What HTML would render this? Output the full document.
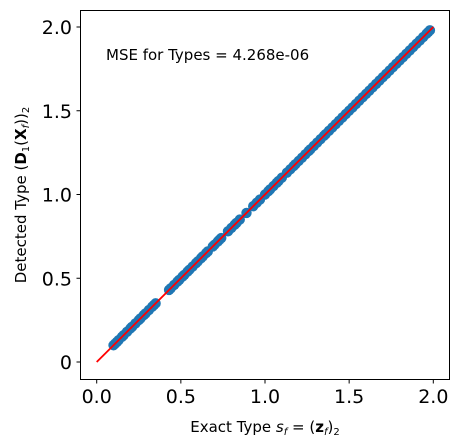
<!DOCTYPE html>
<html><head><meta charset="utf-8"><style>
html,body{margin:0;padding:0;background:#fff;}
svg{display:block;font-family:"DejaVu Sans","Liberation Sans",sans-serif;}
</style></head><body>
<svg id="chart" width="460" height="446" viewBox="0 0 460 446">
<rect x="80.5" y="10.5" width="369" height="369" fill="#fff" stroke="#000" stroke-width="1"/>
<g id="marks"></g>
<g id="axes"></g>
<text x="106" y="60" font-size="15" fill="#000">MSE for Types = 4.268e-06</text>
<text x="265" y="432" font-size="15" text-anchor="middle" fill="#000">Exact Type <tspan font-style="italic">s</tspan><tspan font-size="10" font-style="italic" dy="3">f</tspan><tspan dy="-3"> = (</tspan><tspan font-weight="bold">z</tspan><tspan font-size="10" font-style="italic" dy="3">f</tspan><tspan dy="-3">)</tspan><tspan font-size="10" dy="3">2</tspan></text>
<text transform="translate(26,195) rotate(-90)" font-size="15" text-anchor="middle" fill="#000">Detected Type (<tspan font-weight="bold">D</tspan><tspan font-size="10" dy="3">1</tspan><tspan dy="-3">(</tspan><tspan font-weight="bold">X</tspan><tspan font-size="10" font-style="italic" dy="3">f</tspan><tspan dy="-3">))</tspan><tspan font-size="10" dy="3">2</tspan></text>
</svg>
<script>
const xTicks=[0,0.5,1,1.5,2];
const xTickLabels=["0.0","0.5","1.0","1.5","2.0"];
const yTicks=[0,0.5,1,1.5,2];
const yTickLabels=["0","0.5","1.0","1.5","2.0"];
const exactTypes=[0.10,0.11,0.12,0.13,0.15,0.16,0.18,0.20,0.21,0.23,0.25,0.26,0.28,0.29,0.31,0.33,0.34,0.35,
0.43,0.44,0.46,0.48,0.49,0.51,0.52,0.54,0.55,0.57,0.59,0.60,0.62,0.63,0.65,0.66,0.69,0.70,0.72,0.73,0.74,
0.78,0.80,0.82,0.83,0.85,0.89,0.93,0.95,0.97,1.00,1.02,1.03,1.05,1.07,1.08,1.10,1.13,1.15,1.17,1.18,1.20,
1.22,1.24,1.26,1.27,1.29,1.31,1.33,1.35,1.36,1.38,1.40,1.42,1.44,1.46,1.48,1.50,1.52,1.54,1.56,1.58,1.60,
1.62,1.64,1.66,1.68,1.70,1.72,1.74,1.76,1.78,1.80,1.82,1.84,1.86,1.88,1.90,1.92,1.94,1.96,1.97,1.98];
const detectedTypes=exactTypes.slice();
const refLine=[0,2];
const X=v=>96.7+v*168.3;
const Y=v=>362-v*167.5;
const NS="http://www.w3.org/2000/svg";
const marks=document.getElementById('marks'), axes=document.getElementById('axes');
exactTypes.forEach((v,i)=>{
  const c=document.createElementNS(NS,'circle');
  c.setAttribute('cx',X(v));c.setAttribute('cy',Y(detectedTypes[i]));c.setAttribute('r',5.2);c.setAttribute('fill','#1f77b4');
  
  
  marks.appendChild(c);
});
const ln=document.createElementNS(NS,'line');
ln.setAttribute('x1',X(refLine[0]));ln.setAttribute('y1',Y(refLine[0]));ln.setAttribute('x2',X(refLine[1]));ln.setAttribute('y2',Y(refLine[1]));
ln.setAttribute('stroke','#ff0000');ln.setAttribute('stroke-width',1.8);


marks.appendChild(ln);
xTicks.forEach((v,i)=>{
  const t=document.createElementNS(NS,'line');
  t.setAttribute('x1',X(v));t.setAttribute('x2',X(v));t.setAttribute('y1',379.5);t.setAttribute('y2',383.5);t.setAttribute('stroke','#000');
  
  
  axes.appendChild(t);
  const l=document.createElementNS(NS,'text');
  l.setAttribute('x',X(v));l.setAttribute('y',403);l.setAttribute('text-anchor','middle');l.setAttribute('font-size','19');
  l.textContent=xTickLabels[i];
  
  
  axes.appendChild(l);
});
yTicks.forEach((v,i)=>{
  const t=document.createElementNS(NS,'line');
  t.setAttribute('x1',76.5);t.setAttribute('x2',80.5);t.setAttribute('y1',Y(v));t.setAttribute('y2',Y(v));t.setAttribute('stroke','#000');
  
  
  axes.appendChild(t);
  const l=document.createElementNS(NS,'text');
  l.setAttribute('x',72);l.setAttribute('y',Y(v)+7);l.setAttribute('text-anchor','end');l.setAttribute('font-size','19');
  l.textContent=yTickLabels[i];
  
  
  axes.appendChild(l);
});
</script>
</body></html>
